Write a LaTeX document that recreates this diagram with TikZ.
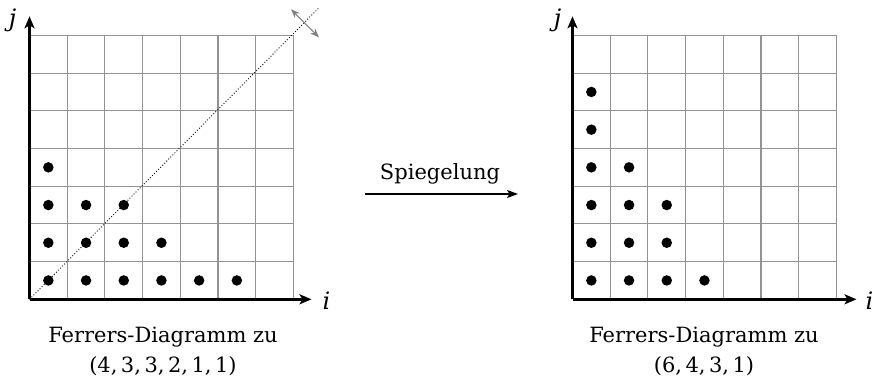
\documentclass[tikz,border=0pt]{standalone}
\usepackage{fontspec}
\setmainfont{DejaVu Serif}
\usetikzlibrary{arrows.meta}
\begin{document}
\begin{tikzpicture}[x=1pt,y=1pt,
  gridline/.style={draw=gray!85, line width=1.1pt},
  axis/.style={line width=2.5pt, -{Stealth[length=12pt,width=10pt,inset=3pt]}},
  dot/.style={circle, fill=black, inner sep=0pt, minimum size=10.5pt},
  txt/.style={font=\fontsize{21}{25}\selectfont, inner sep=0pt},
  axlbl/.style={font=\fontsize{24}{28}\selectfont\itshape, inner sep=0pt},
  mirror/.style={draw=gray, line width=1.1pt, {Stealth[length=9pt,width=7pt]}-{Stealth[length=9pt,width=7pt]}},
  diag/.style={dotted, line width=0.9pt}
]
\useasboundingbox (0,0) rectangle (877,388);
\def\cs{37.7}
% ---------- left diagram ----------
\begin{scope}[shift={(29.5,88.7)}]
  \draw[gridline] (0,0) grid[step=37.7pt] (263.9,263.9);
  \coordinate (L0) at (0,0);
  \coordinate (Ly) at (0,283);
  \coordinate (Lx) at (282,0);
  \coordinate (Ld) at (289,291);
  \coordinate (Lm1) at (261.5,290);
  \coordinate (Lm2) at (289.5,262);
  \foreach \c/\h in {1/4,2/3,3/3,4/2,5/1,6/1}{
    \foreach \r in {1,...,\h}{
      \node[dot] (L-\c-\r) at ({(\c-0.5)*\cs},{(\r-0.5)*\cs}) {};
    }
  }
  \draw[diag] (L0) -- (Ld);
  \draw[mirror] (Lm1) -- (Lm2);
  \draw[axis] (L0) -- (Ly);
  \draw[axis] (L0) -- (Lx);
  \node[axlbl] (Lj) at (-17,279) {j};
  \node[axlbl] (Li) at (297,-1) {i};
\end{scope}
\node[txt] (Lcap1) at (163,51) {Ferrers-Diagramm zu};
\node[txt] (Lcap2) at (163,22) {(4,\,3,\,3,\,2,\,1,\,1)};
% ---------- arrow ----------
\coordinate (A1) at (365,194);
\coordinate (A2) at (518,194);
\draw[line width=1.3pt, -{Stealth[length=11pt,width=8pt,inset=2.5pt]}] (A1) -- (A2);
\node[txt] (Asp) at (440,214) {Spiegelung};
% ---------- right diagram ----------
\begin{scope}[shift={(572.5,88.7)}]
  \draw[gridline] (0,0) grid[step=37.7pt] (263.9,263.9);
  \coordinate (R0) at (0,0);
  \coordinate (Ry) at (0,283);
  \coordinate (Rx) at (284,0);
  \foreach \c/\h in {1/6,2/4,3/3,4/1}{
    \foreach \r in {1,...,\h}{
      \node[dot] (R-\c-\r) at ({(\c-0.5)*\cs},{(\r-0.5)*\cs}) {};
    }
  }
  \draw[axis] (R0) -- (Ry);
  \draw[axis] (R0) -- (Rx);
  \node[axlbl] (Rj) at (-15,279) {j};
  \node[axlbl] (Ri) at (297,-1) {i};
\end{scope}
\node[txt] (Rcap1) at (704,51) {Ferrers-Diagramm zu};
\node[txt] (Rcap2) at (704,22) {(6,\,4,\,3,\,1)};
\end{tikzpicture}
\end{document}
